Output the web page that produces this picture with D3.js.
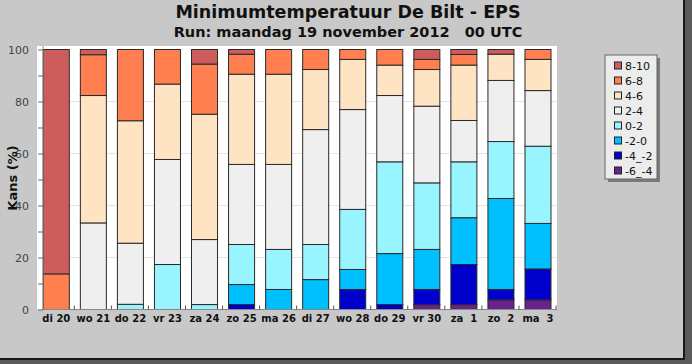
<!DOCTYPE html>
<html>
<head>
<meta charset="utf-8">
<script src="https://cdn.jsdelivr.net/npm/d3@7"></script>
<style>
  body { margin: 0; background: #fff; }
  svg { display: block; font-family: "DejaVu Sans", sans-serif; }
</style>
</head>
<body>
<div id="chart-area"></div>
<script>
// days on the x axis
var days = ["di 20", "wo 21", "do 22", "vr 23", "za 24", "zo 25", "ma 26",
            "di 27", "wo 28", "do 29", "vr 30", "za  1", "zo  2", "ma  3"];

// temperature classes, bottom to top
var classes = ["-6_-4", "-4_-2", "-2-0", "0-2", "2-4", "4-6", "6-8", "8-10"];
var classColors = ["#68228b", "#0000cd", "#00bfff", "#98f5ff", "#efefef", "#ffe4c4", "#ff7f50", "#cd5c5c"];

// kans (%) per class, one value per day
var t_m6_m4 = [0, 0, 0, 0, 0, 0, 0, 0, 0, 0, 1.9, 1.9, 3.7, 3.7];
var t_m4_m2 = [0, 0, 0, 0, 0, 1.9, 0, 0, 7.7, 1.9, 5.8, 15.4, 4.0, 11.9];
var t_m2_0  = [0, 0, 0, 0, 0, 7.7, 7.7, 11.5, 7.7, 19.6, 15.4, 18.0, 35.0, 17.5];
var t_0_2   = [0, 0, 2.0, 17.3, 1.9, 15.4, 15.4, 13.5, 23.1, 35.3, 25.6, 21.5, 21.9, 29.7];
var t_2_4   = [0, 33.3, 23.5, 40.4, 25.0, 30.8, 32.7, 44.2, 38.4, 25.5, 29.5, 15.9, 23.5, 21.4];
var t_4_6   = [0, 49.0, 47.1, 29.0, 48.2, 34.7, 34.7, 23.1, 19.3, 11.7, 14.1, 21.3, 10.1, 12.0];
var t_6_8   = [13.7, 15.7, 27.4, 13.3, 19.3, 7.7, 9.5, 7.7, 3.8, 6.0, 3.9, 4.1, 0, 3.8];
var t_8_10  = [86.3, 2.0, 0, 0, 5.6, 1.8, 0, 0, 0, 0, 3.8, 1.9, 1.8, 0];

var series = [t_m6_m4, t_m4_m2, t_m2_0, t_0_2, t_2_4, t_4_6, t_6_8, t_8_10];

var yTicks = [0, 10, 20, 30, 40, 50, 60, 70, 80, 90, 100];

var W = 692, H = 364;
var plot = { left: 43, right: 557, top: 46, bottom: 309.5 };

var svg = d3.select("#chart-area")
    .append("svg")
        .attr("width", W)
        .attr("height", H);

// frame + shadow
svg.append("rect").attr("x", 0).attr("y", 0).attr("width", W).attr("height", H).attr("fill", "#5a5a5a");
svg.append("rect")
    .attr("x", -2).attr("y", -2).attr("width", 686).attr("height", 361)
    .attr("fill", "#c8c8c8").attr("stroke", "#1a1a1a").attr("stroke-width", 2);

// plot background
svg.append("rect")
    .attr("x", 37).attr("y", plot.top)
    .attr("width", plot.right - 37).attr("height", plot.bottom - plot.top)
    .attr("fill", "#fff");

//Scales
var y = d3.scaleLinear().domain([0, 100]).range([309.5, 49.5]);
var x = d3.scaleBand().domain(days).range([43.3, 551]).paddingInner(0.298).paddingOuter(0);
var color = d3.scaleOrdinal().domain(classes).range(classColors);

// grid
svg.append("g").selectAll("line")
    .data([20, 40, 60, 80])
    .enter().append("line")
    .attr("x1", plot.left).attr("x2", plot.right)
    .attr("y1", function(d) { return y(d); }).attr("y2", function(d) { return y(d); })
    .attr("stroke", "#e4e4e4");

// stacked data
var rows = days.map(function(d, i) {
    var r = { day: d };
    classes.forEach(function(c, k) { r[c] = series[k][i]; });
    return r;
});
var stacked = d3.stack().keys(classes)(rows);

var layers = svg.append("g").selectAll("g")
    .data(stacked)
    .enter().append("g")
    .attr("fill", function(d) { return color(d.key); });

layers.selectAll("rect")
    .data(function(d) { return d.filter(function(p) { return p[1] - p[0] > 0; }); })
    .enter().append("rect")
    .attr("x", function(d) { return x(d.data.day); })
    .attr("width", x.bandwidth())
    .attr("y", function(d) { return y(d[1]); })
    .attr("height", function(d) { return y(d[0]) - y(d[1]); })
    .attr("stroke", "#2a2a2a")
    .attr("stroke-width", 1);

//Y Axis
var yAxisCall = d3.axisLeft(y)
    .tickValues(yTicks)
    .tickSize(5)
    .tickFormat(function(d) { return d % 20 == 0 ? d : ""; });

var yAxis = svg.append("g")
    .attr("transform", "translate(" + plot.left + ",0)")
    .call(yAxisCall);
yAxis.select(".domain").attr("stroke", "#888").attr("d", "M0," + plot.top + "V" + plot.bottom);
yAxis.selectAll(".tick line").attr("stroke", "#666");
yAxis.selectAll(".tick text")
    .attr("x", -14)
    .attr("font-family", "DejaVu Sans, sans-serif")
    .attr("font-size", "11px")
    .attr("fill", "#444");

// bottom axis line + ticks between bars
svg.append("line")
    .attr("x1", plot.left).attr("x2", plot.right)
    .attr("y1", plot.bottom).attr("y2", plot.bottom)
    .attr("stroke", "#888");
svg.append("g").selectAll("line")
    .data(days)
    .enter().append("line")
    .attr("x1", function(d) { return x(d) + x.bandwidth() + 5; })
    .attr("x2", function(d) { return x(d) + x.bandwidth() + 5; })
    .attr("y1", plot.bottom).attr("y2", plot.bottom - 4)
    .attr("stroke", "#555");

// day labels
svg.append("g").selectAll("text")
    .data(days)
    .enter().append("text")
    .attr("x", function(d) { return x(d) + x.bandwidth() / 2; })
    .attr("y", 322)
    .attr("text-anchor", "middle")
    .attr("font-size", "10px")
    .attr("font-weight", "bold")
    .attr("fill", "#111")
    .style("white-space", "pre")
    .text(function(d) { return d; });

// titles
svg.append("text")
    .attr("x", 348).attr("y", 18)
    .attr("text-anchor", "middle")
    .attr("font-size", "17.5px")
    .attr("font-weight", "bold")
    .attr("fill", "#111")
    .text("Minimumtemperatuur De Bilt - EPS");
svg.append("text")
    .attr("x", 348).attr("y", 37)
    .attr("text-anchor", "middle")
    .attr("font-size", "14.5px")
    .attr("font-weight", "bold")
    .attr("fill", "#111")
    .style("white-space", "pre")
    .text("Run: maandag 19 november 2012   00 UTC");

// y label
svg.append("text")
    .attr("transform", "translate(12,178) rotate(-90)")
    .attr("text-anchor", "middle")
    .attr("dominant-baseline", "central")
    .attr("font-size", "13px")
    .attr("font-weight", "bold")
    .attr("fill", "#111")
    .text("Kans (%)");

// legend
var legend = svg.append("g");
legend.append("rect")
    .attr("x", 608).attr("y", 58).attr("width", 52).attr("height", 124)
    .attr("fill", "#7a7a7a");
legend.append("rect")
    .attr("x", 605).attr("y", 55).attr("width", 52).attr("height", 124)
    .attr("fill", "#ececec").attr("stroke", "#666");

classes.slice().reverse().forEach(function(c, i) {
    legend.append("rect")
        .attr("x", 614.5).attr("y", 62 + 15 * i)
        .attr("width", 7).attr("height", 7)
        .attr("fill", color(c))
        .attr("stroke", "#222");
    legend.append("text")
        .attr("x", 625).attr("y", 70 + 15 * i)
        .attr("font-size", "11px")
        .attr("fill", "#111")
        .text(c);
});
</script>
</body>
</html>
